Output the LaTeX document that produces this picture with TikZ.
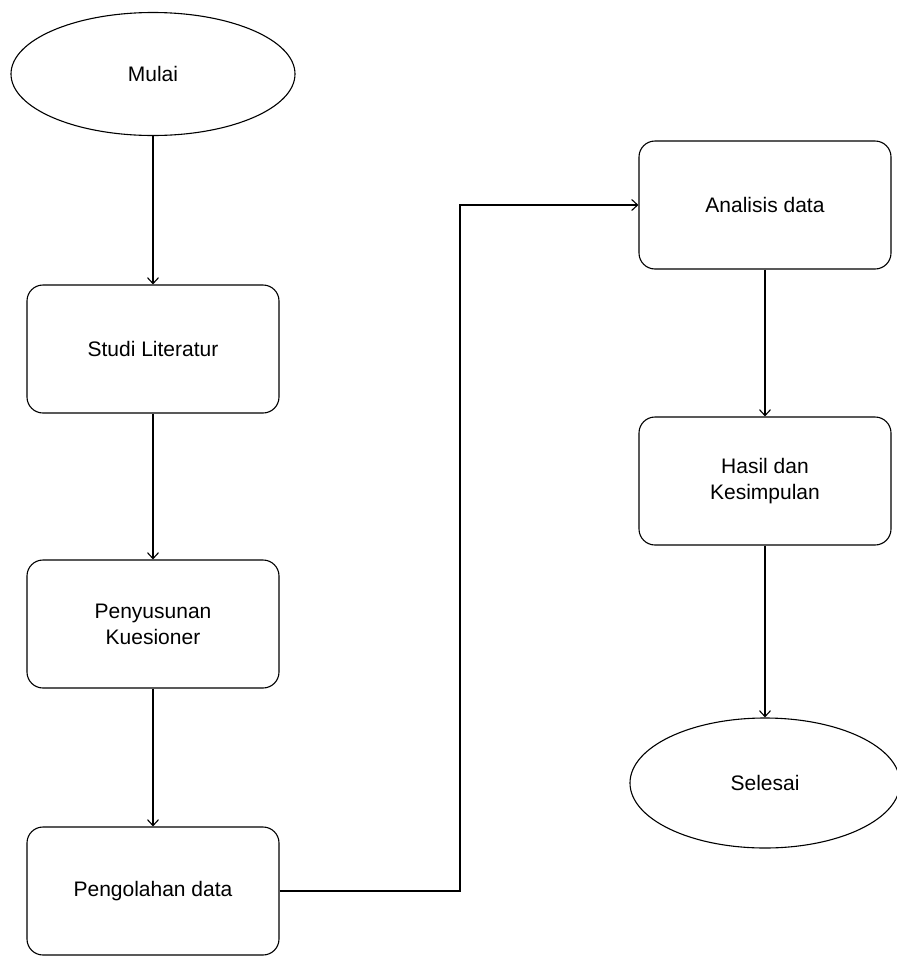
\documentclass[tikz,border=0pt]{standalone}
\usepackage{fontspec}
\setmainfont{Liberation Sans}
\usetikzlibrary{shapes.geometric,arrows.meta}

\tikzset{
	langkah/.style={draw,rounded corners=16pt,line width=1.1pt,minimum width=252pt,minimum height=128pt,align=center,font=\fontsize{21}{26}\selectfont},
	ujung/.style={draw,ellipse,line width=1.1pt,inner sep=0pt,align=center,font=\fontsize{21}{26}\selectfont},
	panah/.style={line width=1.1pt,-{Straight Barb[length=6pt,width=11pt]}}
}

\begin{document}
\begin{tikzpicture}[x=1pt,y=-1pt]
	\useasboundingbox (0,0) rectangle (897,956);

	\node[ujung,minimum width=284pt,minimum height=123pt] (mulai) at (153,74) {Mulai};
	\node[langkah] (studi) at (153,349) {Studi Literatur};
	\node[langkah] (kuesioner) at (153,624) {Penyusunan\\Kuesioner};
	\node[langkah] (olah) at (153,891) {Pengolahan data};

	\node[langkah] (analisis) at (765,205) {Analisis data};
	\node[langkah] (hasil) at (765,481) {Hasil dan\\Kesimpulan};
	\node[ujung,minimum width=270pt,minimum height=130pt] (selesai) at (765,783) {Selesai};

	\coordinate (belok) at (460,891);

	\draw[panah] (mulai) -- (studi);
	\draw[panah] (studi) -- (kuesioner);
	\draw[panah] (kuesioner) -- (olah);
	\draw[panah] (olah.east) -- (belok) |- (analisis.west);
	\draw[panah] (analisis) -- (hasil);
	\draw[panah] (hasil) -- (selesai);
	\end{tikzpicture}
\end{document}
